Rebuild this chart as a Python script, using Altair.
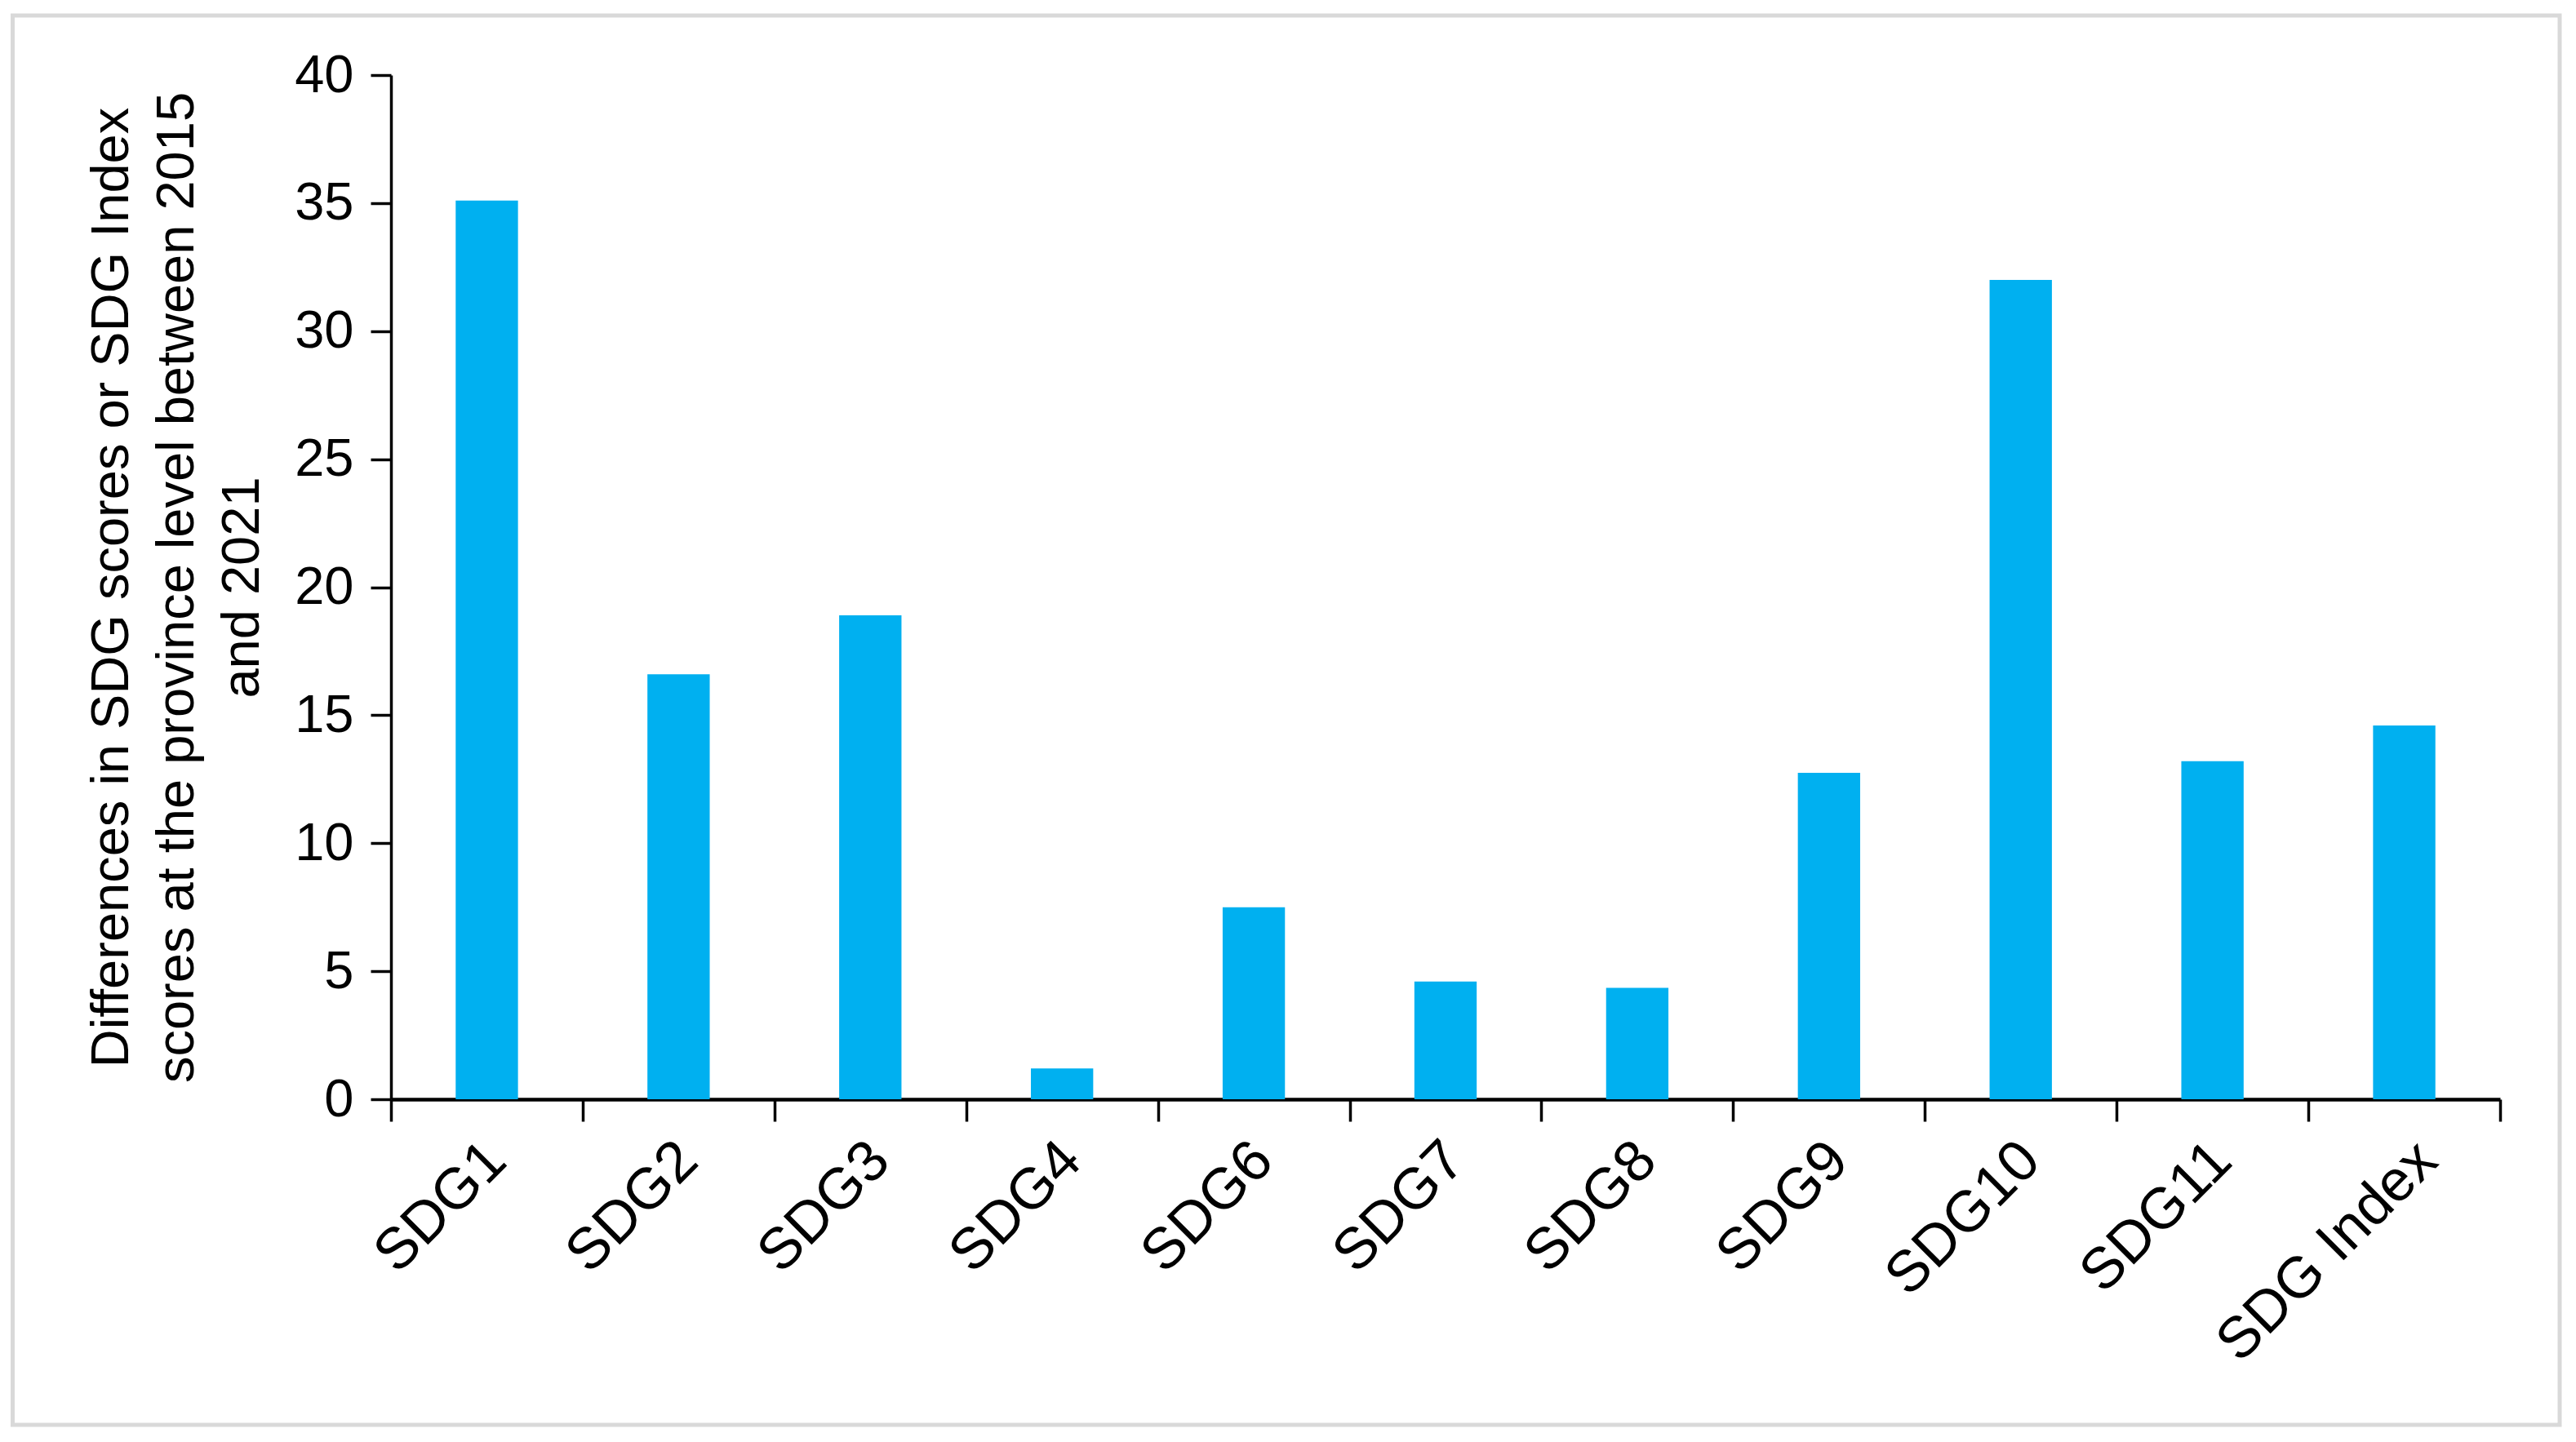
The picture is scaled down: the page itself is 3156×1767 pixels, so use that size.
import altair as alt
import pandas as pd

categories = ["SDG1", "SDG2", "SDG3", "SDG4", "SDG6", "SDG7", "SDG8",
              "SDG9", "SDG10", "SDG11", "SDG Index"]
values = [35.1, 16.6, 18.9, 1.2, 7.5, 4.6, 4.35, 12.75, 32.0, 13.2, 14.6]
y_ticks = [0, 5, 10, 15, 20, 25, 30, 35, 40]
y_title = ["Differences in SDG scores or SDG Index",
           "scores at the province level between 2015",
           "and 2021"]

df = pd.DataFrame({"goal": categories, "diff": values})

FONT = "Liberation Sans"

bars = alt.Chart(df).mark_bar(
    color="#00B0F0",
    width=alt.RelativeBandSize(0.325),
).encode(
    x=alt.X(
        "goal:N",
        sort=categories,
        scale=alt.Scale(paddingInner=0, paddingOuter=0),
        axis=alt.Axis(
            title=None,
            tickBand="extent",
            labelAngle=-45,
            labelAlign="right",
            labelBaseline="top",
            labelPadding=12,
            labelLimit=0,
            labelOffset={"condition": {"test": "datum.value == 'SDG Index'", "value": 4}, "value": -13},
            labelFont=FONT,
            labelFontSize=71,
            labelColor="black",
            tickSize=27,
            tickWidth=3.5,
            tickColor="black",
            domainColor="black",
            domainWidth=4.5,
        ),
    ),
    y=alt.Y(
        "diff:Q",
        scale=alt.Scale(domain=[0, 40], nice=False),
        axis=alt.Axis(
            values=y_ticks,
            grid=False,
            title=y_title,
            titleFont=FONT,
            titleFontSize=65,
            titleFontWeight="normal",
            titleColor="black",
            titleLineHeight=80,
            titlePadding=30,
            labelFont=FONT,
            labelFontSize=65,
            labelColor="black",
            labelPadding=21,
            tickSize=25,
            tickWidth=3.5,
            tickColor="black",
            domainColor="black",
            domainWidth=3.5,
        ),
    ),
)

frame = alt.Chart(alt.Data(values=[{}])).mark_rect(
    fillOpacity=0,
    stroke="#d9d9d9",
    strokeWidth=5,
).encode(
    x=alt.value(-463.5),
    x2=alt.value(2657),
    y=alt.value(-73),
    y2=alt.value(1654),
)

chart = alt.layer(frame, bars).properties(
    width=2584,
    height=1255,
    padding={"left": 5, "top": 8, "right": 5, "bottom": 5},
    background="white",
).configure_view(stroke=None)

chart.save("out.html", embed_options={"renderer": "svg", "actions": False})
